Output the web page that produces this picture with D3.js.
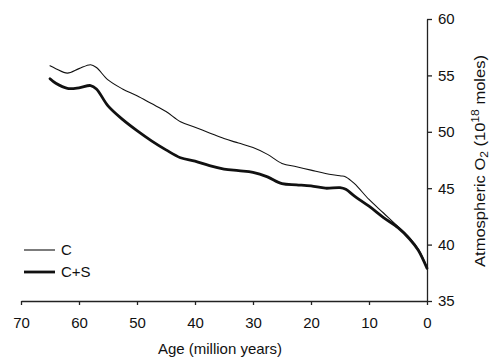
<!DOCTYPE html>
<html>
<head>
<meta charset="utf-8">
<script src="https://cdn.jsdelivr.net/npm/d3@7"></script>
<style>
  body { margin: 0; background: #fff; }
  svg { display: block; font-family: "Liberation Sans", Arial, sans-serif; }
</style>
</head>
<body>
<div id="chart"></div>
<script>
// ages in million years
var ages = [65, 64, 62, 60, 58, 57, 55, 52.5, 50, 47.5, 45, 42.5, 40, 37.5, 35, 32.5, 30,
  27.5, 25, 22.5, 20, 17.5, 15, 14, 12.5, 10, 7.5, 5, 3, 1.5, 0];
// carbon only
var cValues = [55.85, 55.6, 55.2, 55.6, 55.95, 55.7, 54.6, 53.8, 53.2, 52.5, 51.8, 50.9, 50.4, 49.9, 49.4, 49.0, 48.6,
  48.0, 47.2, 46.9, 46.6, 46.3, 46.1, 46.0, 45.4, 44.0, 42.8, 41.6, 40.6, 39.6, 38.0];
// carbon + sulphur
var csValues = [54.7, 54.3, 53.85, 53.9, 54.1, 53.8, 52.3, 51.1, 50.1, 49.2, 48.4, 47.7, 47.4, 47.0, 46.7, 46.55, 46.4,
  46.0, 45.4, 45.3, 45.2, 45.0, 45.05, 44.9, 44.3, 43.4, 42.4, 41.5, 40.5, 39.5, 37.9];
var xTicks = [70, 60, 50, 40, 30, 20, 10, 0];
var yTicks = [35, 40, 45, 50, 55, 60];
var seriesNames = ["C", "C+S"];

var W = 490, H = 359;
var margin = { top: 19, right: 63, bottom: 58, left: 21 },
  width = W - margin.left - margin.right,
  height = H - margin.top - margin.bottom;

var svg = d3.select("#chart").append("svg")
  .attr("width", W).attr("height", H)
  .append("g")
  .attr("transform", "translate(" + margin.left + "," + margin.top + ")");

var x = d3.scaleLinear().domain([70, 0]).range([0, width]);
var y = d3.scaleLinear().domain([35, 60]).range([height, 0]);

// x axis
var xAxis = svg.append("g")
  .attr("transform", "translate(0," + height + ")")
  .call(d3.axisBottom(x).tickValues(xTicks).tickSize(4).tickSizeOuter(0).tickPadding(12).tickFormat(d3.format("d")));
xAxis.selectAll("text").style("font-size", "15px").attr("fill", "#111");
xAxis.selectAll("line, path").attr("stroke", "#222").attr("stroke-width", 1.3);

// y axis on the right
var yAxis = svg.append("g")
  .attr("transform", "translate(" + width + ",0)")
  .call(d3.axisRight(y).tickValues(yTicks).tickSize(5).tickSizeOuter(0).tickPadding(6));
yAxis.selectAll("text").style("font-size", "15px").attr("fill", "#111");
yAxis.selectAll("line, path").attr("stroke", "#222").attr("stroke-width", 1.3);

// axis titles
svg.append("text")
  .attr("x", 199).attr("y", height + 53)
  .attr("text-anchor", "middle")
  .style("font-size", "15px")
  .attr("fill", "#111")
  .text("Age (million years)");

// y title: the scan squeezes it along its length, so scale it to fit
var ytg = svg.append("g")
  .attr("transform", "translate(" + (width + 58) + ",142) rotate(-90)");
var yt = ytg.append("text")
  .attr("text-anchor", "middle")
  .style("font-size", "15px")
  .attr("fill", "#111");
yt.append("tspan").text("Atmospheric O");
yt.append("tspan").attr("dy", 3).style("font-size", "11px").text("2");
yt.append("tspan").attr("dy", -3).text(" (10");
yt.append("tspan").attr("dy", -6).style("font-size", "11px").text("18");
yt.append("tspan").attr("dy", 6).text(" moles)");
var ytw = yt.node().getBBox().width;
yt.attr("transform", "scale(" + (212 / ytw) + ",1)");

var line = d3.line()
  .x(function(d) { return x(d[0]); })
  .y(function(d) { return y(d[1]); })
  .curve(d3.curveCatmullRom.alpha(0.5));

var series = [
  { name: seriesNames[0], values: d3.zip(ages, cValues), w: 1.1 },
  { name: seriesNames[1], values: d3.zip(ages, csValues), w: 2.8 }
];

svg.selectAll(".series")
  .data(series)
  .enter().append("path")
  .attr("fill", "none")
  .attr("stroke", "#111")
  .attr("stroke-width", function(d) { return d.w; })
  .attr("stroke-linejoin", "round")
  .attr("stroke-linecap", "round")
  .attr("d", function(d) { return line(d.values); });

// legend
var legend = svg.selectAll(".legend")
  .data(series)
  .enter().append("g")
  .attr("transform", function(d, i) { return "translate(3," + (231 + i * 22) + ")"; });
legend.append("line")
  .attr("x1", 0).attr("x2", 31)
  .attr("stroke", "#111")
  .attr("stroke-width", function(d) { return d.w; });
legend.append("text")
  .attr("x", 37).attr("dy", "0.36em")
  .style("font-size", "15px")
  .attr("fill", "#111")
  .text(function(d) { return d.name; });
</script>
</body>
</html>
